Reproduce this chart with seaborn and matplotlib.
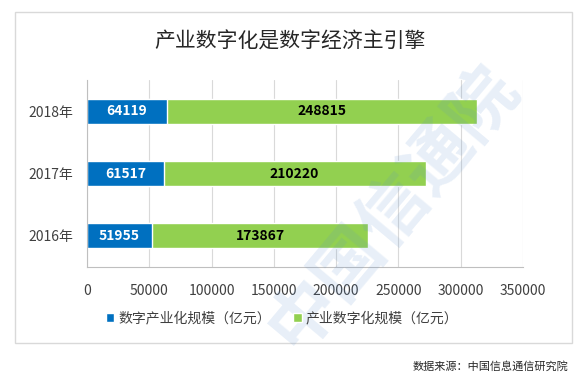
import matplotlib
matplotlib.use('Agg')
import matplotlib.pyplot as plt
from matplotlib.patches import Rectangle
import seaborn as sns
import pandas as pd

# chart values
years = ['2018年', '2017年', '2016年']
digital_industry = [64119, 61517, 51955]      # 数字产业化规模
industry_digital = [248815, 210220, 173867]   # 产业数字化规模
x_ticks = [0, 50000, 100000, 150000, 200000, 250000, 300000, 350000]

title = '产业数字化是数字经济主引擎'
legend_labels = ['数字产业化规模（亿元）', '产业数字化规模（亿元）']
source = '数据来源：中国信息通信研究院'

blue = '#0070C0'
green = '#92D050'

sns.set_theme(style='white')
plt.rcParams['font.family'] = ['Noto Sans CJK SC', 'DejaVu Sans']

df = pd.DataFrame({'year': years, 'blue': digital_industry, 'green': industry_digital})
df['total'] = df['blue'] + df['green']

fig = plt.figure(figsize=(5.88, 3.84), dpi=100)
ax = fig.add_axes([87 / 588, 1 - 267 / 384, (523 - 87) / 588, (267 - 80) / 384])

# stacked bars: total in green, then blue part over it
sns.barplot(data=df, x='total', y='year', order=years, color=green, width=0.4,
            saturation=1, ax=ax, label=legend_labels[1])
sns.barplot(data=df, x='blue', y='year', order=years, color=blue, width=0.4,
            saturation=1, ax=ax, label=legend_labels[0])

ax.set_xlim(0, 350000)
ax.set_xticks(x_ticks)
ax.set_xticklabels([str(t) for t in x_ticks])
ax.set_xlabel('')
ax.set_ylabel('')
ax.tick_params(axis='x', length=0, pad=12, labelsize=10, labelcolor='#404040')
ax.tick_params(axis='y', length=0, pad=10, labelsize=10, labelcolor='#404040')
ax.grid(axis='x', color='#d9d9d9', linewidth=0.8)
ax.set_axisbelow(True)
for s in ['top', 'right']:
    ax.spines[s].set_visible(False)
for s in ['left', 'bottom']:
    ax.spines[s].set_color('#bfbfbf')
    ax.spines[s].set_linewidth(0.8)

# value labels
for i, (b, g) in enumerate(zip(digital_industry, industry_digital)):
    ax.text(b / 2, i, str(b), ha='center', va='center', color='white',
            fontsize=10, fontweight='bold')
    ax.text(b + g / 2, i, str(g), ha='center', va='center', color='black',
            fontsize=10, fontweight='bold')

# legend, blue first
handles, labels = ax.get_legend_handles_labels()
order = [labels.index(legend_labels[0]), labels.index(legend_labels[1])]
fig.legend([handles[k] for k in order], [labels[k] for k in order],
           loc='center', bbox_to_anchor=(0.48, 1 - 318 / 384), ncol=2,
           frameon=False, fontsize=10, handlelength=0.6, handleheight=0.6,
           handletextpad=0.3, columnspacing=1.6, labelcolor='#404040')
if ax.get_legend() is not None:
    ax.get_legend().remove()

fig.text(0.493, 1 - 42 / 384, title, ha='center', va='center', fontsize=15, color='#262626')

# outer border of the chart area
fig.patches.append(Rectangle((15 / 588, 1 - 343 / 384), (572 - 15) / 588, (343 - 12) / 384,
                             transform=fig.transFigure, fill=False,
                             edgecolor='#d9d9d9', linewidth=1))

fig.text(568 / 588, 1 - 366 / 384, source, ha='right', va='center', fontsize=8, color='#262626')

# faint watermark
fig.text(0.67, 0.46, '中国信通院', ha='center', va='center', fontsize=50,
         fontweight='bold', color='#5b8fd0', alpha=0.14, rotation=50)

fig.savefig('out.png', dpi=100)
